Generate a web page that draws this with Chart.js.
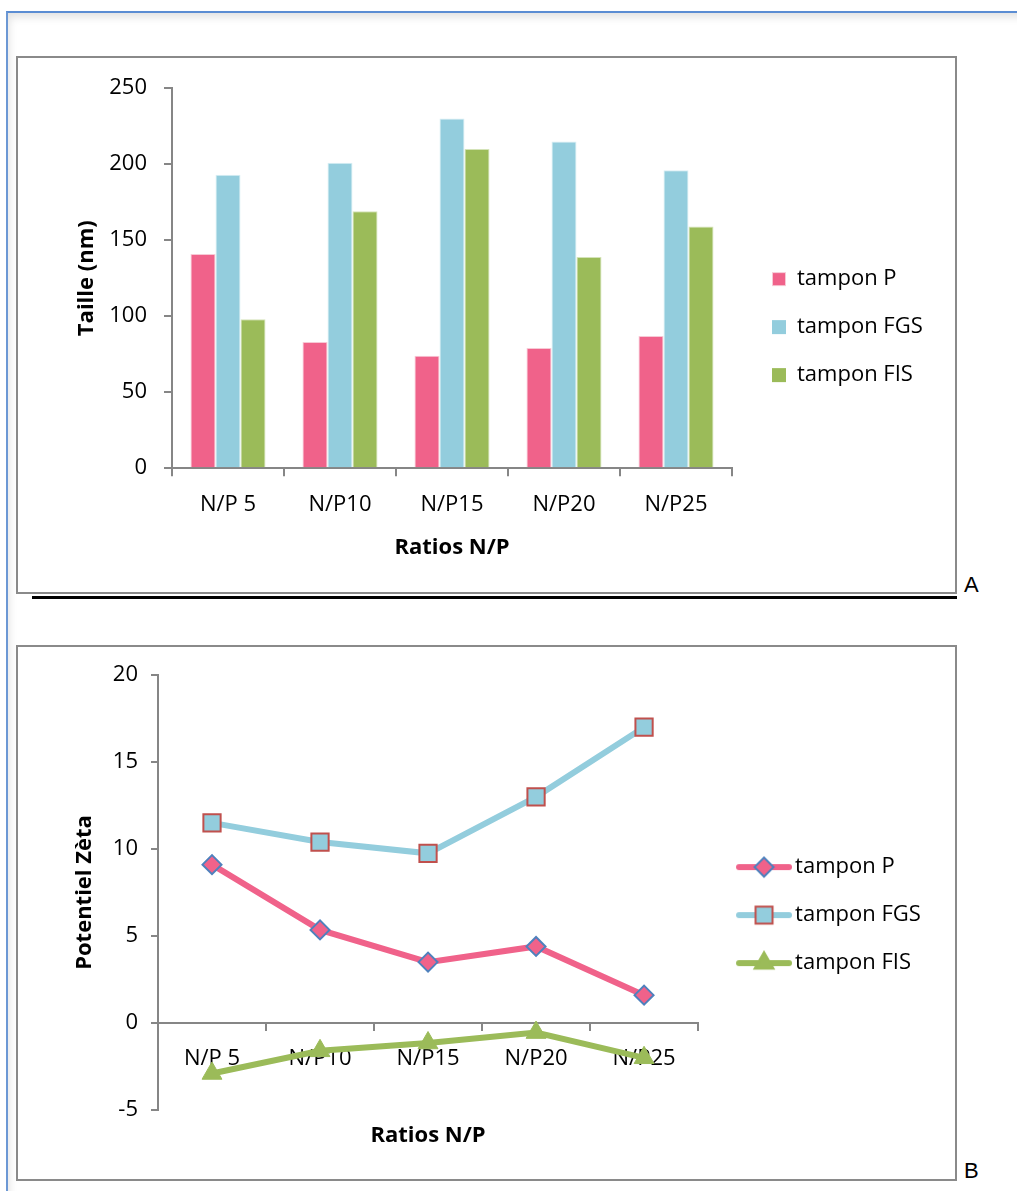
<!DOCTYPE html>
<html>
<head>
<meta charset="utf-8">
<script src="https://cdn.jsdelivr.net/npm/chart.js@4.4.0/dist/chart.umd.min.js"></script>
<style>
  body { margin: 0; background: #fff; width: 1017px; height: 1191px; overflow: hidden; position: relative; }
  .page { position: absolute; left: 6px; top: 11px; right: -20px; bottom: -20px;
          border-top: 2px solid #5b8dd3; border-left: 2px solid #6c98d4;
          box-shadow: inset 4px 7px 8px -3px rgba(0,0,0,0.12); }
  .cadre { position: absolute; left: 16px; width: 941px; box-sizing: border-box;
           border: 2px solid #8a8a8a; background: #fff; }
  #cadreA { top: 56px; height: 538px; }
  #cadreB { top: 645px; height: 536px; }
  .cadre canvas { display: block; }
  .trait { position: absolute; left: 32px; top: 596px; width: 925px; height: 3px; background: #000; }
  .lettre { position: absolute; left: 964px; font: 22px 'Liberation Sans', Arial, sans-serif; color: #000; }
</style>
</head>
<body>
<div class="page"></div>
<div class="cadre" id="cadreA"><canvas id="grapheA" width="937" height="534"></canvas></div>
<div class="trait"></div>
<div class="lettre" style="top:572px">A</div>
<div class="cadre" id="cadreB"><canvas id="grapheB" width="937" height="532"></canvas></div>
<div class="lettre" style="top:1158px">B</div>

<script>
// ---- données ----
const categories = ['N/P 5', 'N/P10', 'N/P15', 'N/P20', 'N/P25'];
const series = ['tampon P', 'tampon FGS', 'tampon FIS'];

// A : taille (nm)
const tailleP   = [141, 83, 74, 79, 87];
const tailleFGS = [193, 201, 230, 215, 196];
const tailleFIS = [98, 169, 210, 139, 159];
const ticksTaille = [0, 50, 100, 150, 200, 250];

// B : potentiel zêta
const zetaP   = [9.1, 5.35, 3.5, 4.4, 1.6];
const zetaFGS = [11.5, 10.4, 9.75, 13.0, 17.0];
const zetaFIS = [-2.9, -1.6, -1.15, -0.55, -2.0];
const ticksZeta = [-5, 0, 5, 10, 15, 20];

// ---- styles ----
const ROSE = '#F0628A';
const BLEU = '#93CDDD';
const VERT = '#9BBB59';
const GRIS = '#868686';
const POLICE = "'Open Sans', 'Noto Sans', sans-serif";
const fontTicks = { family: POLICE, size: 22 };
const fontTitre = { family: POLICE, size: 22, weight: 'bold' };
const fontLegende = { family: POLICE, size: 22 };
const PAD_LEGENDE = 26;

function largeurTexte(txt, font) {
    const g = document.createElement('canvas').getContext('2d');
    g.font = font;
    return g.measureText(txt).width;
}

// canvas pour la légende : la forme est placée entre debut et fin (relatif à l'item)
function icone(pw, debut, fin, hauteur, dessiner) {
    const c = pw / 2;
    const h = Math.ceil(Math.max(c - debut, fin - c));
    const cv = document.createElement('canvas');
    cv.width = 2 * h;
    cv.height = hauteur;
    const g = cv.getContext('2d');
    g.translate(debut - c + h, hauteur / 2);
    dessiner(g, fin - debut);
    return cv;
}

function carre(couleur, bord) {
    return icone(28, 14, 28, 16, (g, w) => {
        g.fillStyle = couleur;
        g.fillRect(0, -7, 14, 14);
        if (bord) { g.strokeStyle = bord; g.lineWidth = 1; g.strokeRect(0.5, -6.5, 13, 13); }
    });
}

function marqueur(g, forme, x, fond, bord) {
    g.fillStyle = fond; g.strokeStyle = bord; g.lineWidth = 2;
    g.beginPath();
    if (forme === 'losange') {
        g.moveTo(x, -9.5); g.lineTo(x + 9.5, 0); g.lineTo(x, 9.5); g.lineTo(x - 9.5, 0);
    } else if (forme === 'carre') {
        g.rect(x - 8.5, -8.5, 17, 17);
    } else {
        g.moveTo(x, -11); g.lineTo(x + 9.5, 5.5); g.lineTo(x - 9.5, 5.5);
    }
    g.closePath(); g.fill(); g.stroke();
}

function trait(couleur, forme, fond, bord) {
    return icone(60, 12, 68, 26, (g, w) => {
        g.strokeStyle = couleur; g.lineWidth = 6; g.lineCap = 'round';
        g.beginPath(); g.moveTo(3, 0); g.lineTo(w - 3, 0); g.stroke();
        marqueur(g, forme, 28, fond, bord);
    });
}

const iconesA = [carre(ROSE, '#f7c9d5'), carre(BLEU), carre(VERT)];
const iconesB = [
    trait(ROSE, 'losange', ROSE, '#4F81BD'),
    trait(BLEU, 'carre', BLEU, '#C0504D'),
    trait(VERT, 'triangle', VERT, VERT)
];

function etiquettes(icones) {
    return chart => chart.data.datasets.map((ds, i) => ({
        text: ds.label,
        pointStyle: icones[i],
        fillStyle: 'transparent',
        strokeStyle: 'transparent',
        lineWidth: 0,
        fontColor: '#000',
        hidden: false,
        datasetIndex: i
    }));
}

const texteMax = Math.max(...series.map(s => largeurTexte(s, "22px " + POLICE)));

// ==================== A : barres ====================
const droiteA = 713;   // bord droit de la zone de tracé
const largeurLegA = PAD_LEGENDE + 28 + 11 + texteMax + 11;

new Chart(document.getElementById('grapheA'), {
    type: 'bar',
    data: {
        labels: categories,
        datasets: [
            { label: series[0], data: tailleP, backgroundColor: ROSE, borderColor: '#f7c9d5', borderWidth: 1 },
            { label: series[1], data: tailleFGS, backgroundColor: BLEU, borderColor: '#d8eef4', borderWidth: 1 },
            { label: series[2], data: tailleFIS, backgroundColor: VERT, borderColor: '#d4e3b8', borderWidth: 1 }
        ]
    },
    options: {
        responsive: false,
        animation: false,
        datasets: { bar: { categoryPercentage: 0.67, barPercentage: 1 } },
        layout: { padding: { left: 0, top: 28, right: 937 - droiteA - largeurLegA, bottom: 31 } },
        plugins: {
            tooltip: { enabled: false },
            legend: {
                position: 'right',
                title: { display: true, text: '', padding: { top: 6, bottom: 0 }, font: { size: 1 } },
                labels: {
                    usePointStyle: true,
                    pointStyleWidth: 28,
                    padding: PAD_LEGENDE,
                    font: fontLegende,
                    color: '#000',
                    generateLabels: etiquettes(iconesA)
                }
            }
        },
        scales: {
            x: {
                grid: { drawOnChartArea: false, offset: true, tickLength: 8, color: GRIS, lineWidth: 2 },
                border: { color: GRIS, width: 2 },
                ticks: { font: fontTicks, color: '#000', padding: 15 },
                title: { display: true, text: 'Ratios N/P', font: fontTitre, color: '#000', padding: { top: 2, bottom: 0 } }
            },
            y: {
                min: ticksTaille[0],
                max: ticksTaille[ticksTaille.length - 1],
                ticks: { stepSize: ticksTaille[1] - ticksTaille[0], font: fontTicks, color: '#000', padding: 17 },
                grid: { drawOnChartArea: false, tickLength: 8, color: GRIS, lineWidth: 2 },
                border: { color: GRIS, width: 2 },
                title: { display: true, text: 'Taille (nm)', font: fontTitre, color: '#000', padding: { top: 56, bottom: 0 } },
                afterFit: s => { s.width = 154; }
            }
        }
    }
});

// ==================== B : courbes ====================
const droiteB = 679;
const largeurLegB = PAD_LEGENDE + 60 + 11 + texteMax + 5;

new Chart(document.getElementById('grapheB'), {
    type: 'line',
    data: {
        labels: categories,
        datasets: [
            { label: series[0], data: zetaP, borderColor: ROSE, borderWidth: 6, pointStyle: 'rectRot',
              pointRadius: 9.5, pointBackgroundColor: ROSE, pointBorderColor: '#4F81BD', pointBorderWidth: 2 },
            { label: series[1], data: zetaFGS, borderColor: BLEU, borderWidth: 6, pointStyle: 'rect',
              pointRadius: 12.2, pointBackgroundColor: BLEU, pointBorderColor: '#C0504D', pointBorderWidth: 2 },
            { label: series[2], data: zetaFIS, borderColor: VERT, borderWidth: 6, pointStyle: 'triangle',
              pointRadius: 11.5, pointBackgroundColor: VERT, pointBorderColor: VERT, pointBorderWidth: 1 }
        ]
    },
    options: {
        responsive: false,
        animation: false,
        layout: { padding: { left: 0, top: 28, right: 937 - droiteB - largeurLegB, bottom: 69 } },
        plugins: {
            tooltip: { enabled: false },
            legend: {
                position: 'right',
                title: { display: true, text: '', padding: { top: 44, bottom: 0 }, font: { size: 1 } },
                labels: {
                    usePointStyle: true,
                    pointStyleWidth: 60,
                    padding: PAD_LEGENDE,
                    font: fontLegende,
                    color: '#000',
                    generateLabels: etiquettes(iconesB)
                }
            }
        },
        scales: {
            x: {
                position: { y: 0 },
                offset: true,
                grid: { drawOnChartArea: false, offset: true, tickLength: 7, color: GRIS, lineWidth: 2 },
                border: { color: GRIS, width: 2 },
                ticks: { font: fontTicks, color: '#000', padding: 16 },
                title: { display: true, text: 'Ratios N/P', font: fontTitre, color: '#000', padding: { top: 34, bottom: 4 } }
            },
            y: {
                min: ticksZeta[0],
                max: ticksZeta[ticksZeta.length - 1],
                ticks: { stepSize: ticksZeta[1] - ticksZeta[0], font: fontTicks, color: '#000', padding: 13 },
                grid: { drawOnChartArea: false, tickLength: 7, color: GRIS, lineWidth: 2 },
                border: { color: GRIS, width: 2 },
                title: { display: true, text: 'Potentiel Zèta', font: fontTitre, color: '#000', padding: { top: 54, bottom: 0 } },
                afterFit: s => { s.width = 140; }
            }
        }
    }
});
</script>
</body>
</html>
